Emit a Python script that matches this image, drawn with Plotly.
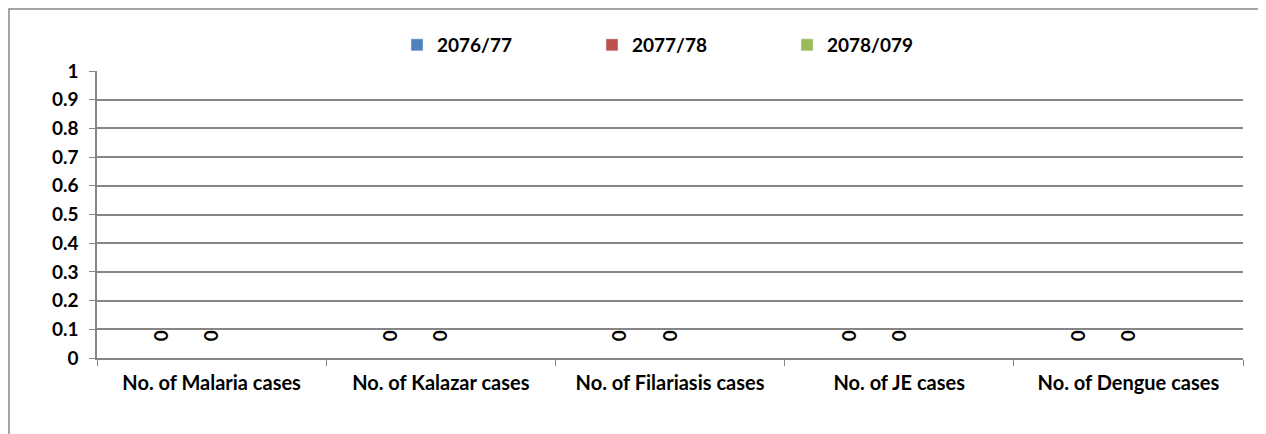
import plotly.graph_objects as go

categories = ["No. of Malaria cases", "No. of Kalazar cases", "No. of Filariasis cases",
              "No. of JE cases", "No. of Dengue cases"]
series_names = ["2076/77", "2077/78", "2078/079"]
s2076 = [0, 0, 0, 0, 0]
s2077 = [0, 0, 0, 0, 0]
s2078 = [None, None, None, None, None]
colors = ["#4F81BD", "#C0504D", "#9BBB59"]

FONT = "Lato"
GRID = "#868686"
FS = 20

W, H = 1266, 434
ML, MR, MT, MB = 89, 31, 63, 84
PW, PH = W - ML - MR, H - MT - MB

fig = go.Figure()
for name, vals, col in zip(series_names, [s2076, s2077, s2078], colors):
    fig.add_trace(go.Bar(
        x=categories, y=vals, name=name, marker_color=col,
        text=[("0\u00a0\u00a0\u00a0" if v is not None else "") for v in vals],
        textposition="outside", textangle=90, cliponaxis=False,
        textfont=dict(family=FONT, size=FS - 1, color="black", weight="bold"),
    ))

fig.update_layout(
    width=W, height=H,
    margin=dict(l=ML, r=MR, t=MT, b=MB, autoexpand=False),
    plot_bgcolor="white", paper_bgcolor="white",
    barmode="group", bargap=0.345, bargroupgap=0,
    font=dict(family=FONT, size=FS, color="black"),
    showlegend=True,
    legend=dict(orientation="h", xref="container", yref="container",
                x=389 / W, y=1 - 37 / H, xanchor="left", yanchor="middle",
                entrywidth=150, entrywidthmode="pixels",
                bgcolor="rgba(0,0,0,0)",
                font=dict(family=FONT, size=FS - 1, color="black", weight="bold"),
                itemwidth=30),
)
fig.update_xaxes(
    showline=True, linecolor=GRID, linewidth=1.5,
    ticks="outside", tickson="boundaries", ticklen=6, tickcolor=GRID,
    tickfont=dict(family=FONT, size=FS, color="black", weight="bold"),
    ticklabelstandoff=6,
    showgrid=False, automargin=False,
)
fig.update_yaxes(
    range=[0, 1], dtick=0.1, tick0=0,
    showline=True, linecolor=GRID, linewidth=1.5,
    ticks="outside", ticklen=6, tickcolor=GRID,
    showgrid=True, gridcolor=GRID, gridwidth=1.5,
    tickfont=dict(family=FONT, size=FS - 1, color="black", weight="bold"),
    ticklabelstandoff=7,
    zeroline=False, automargin=False,
)
fig.add_shape(type="rect", xref="paper", yref="paper",
              x0=(-ML + 1) / PW, x1=1.2, y0=-0.6, y1=(PH + MT - 1) / PH,
              line=dict(color=GRID, width=1.5), fillcolor="rgba(0,0,0,0)", layer="below")

fig.write_html("out.html")
